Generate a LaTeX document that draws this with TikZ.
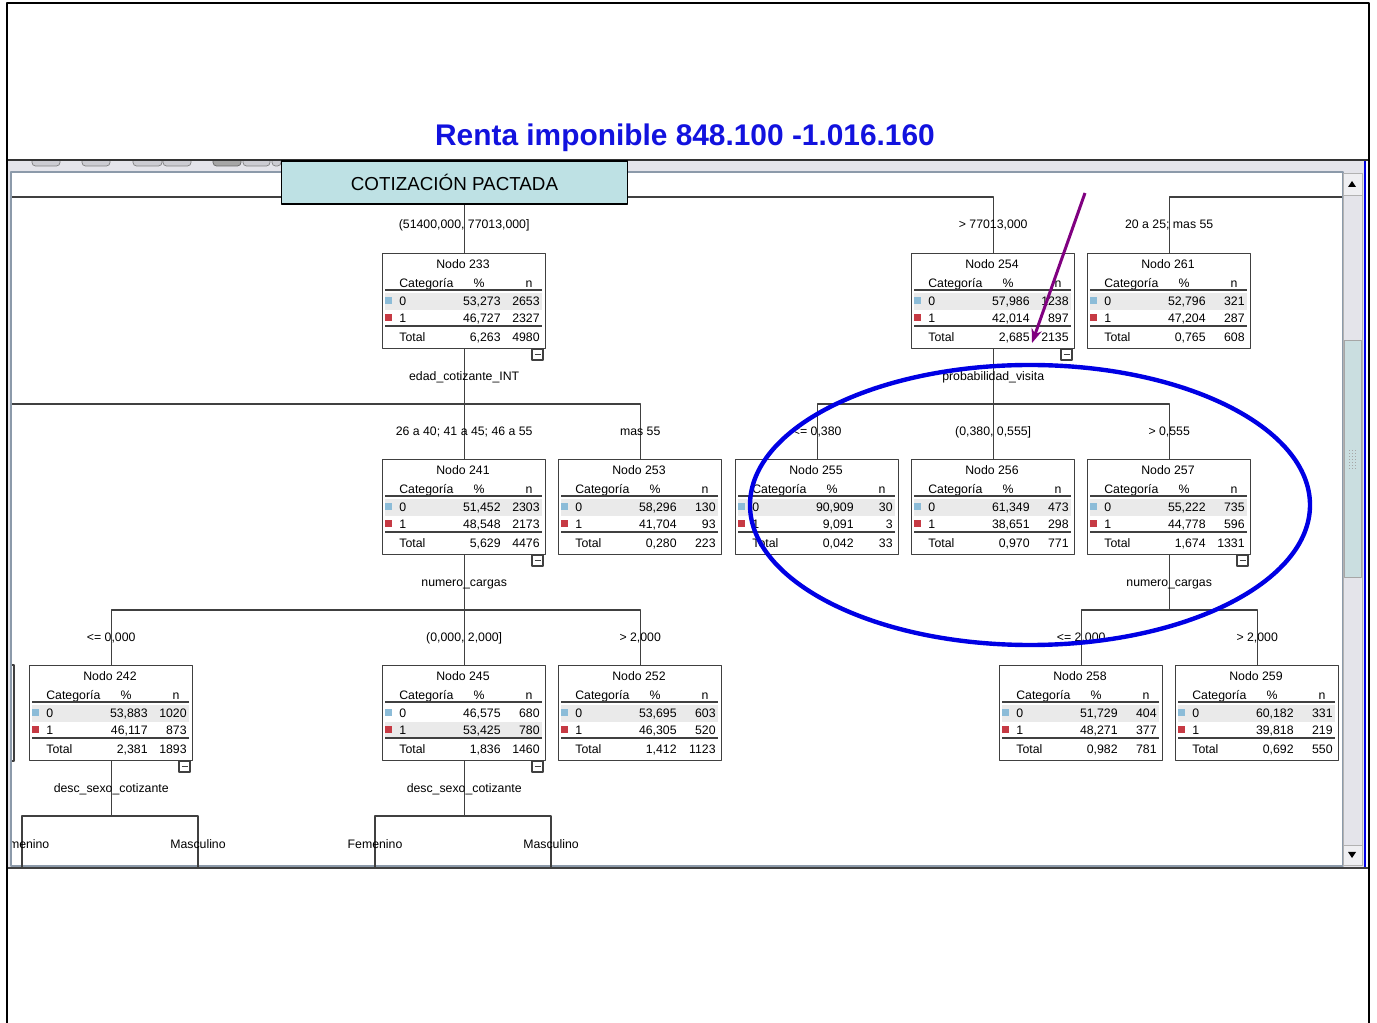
\documentclass[tikz,border=0pt]{standalone}
\usepackage{fontspec}
\setmainfont{Liberation Sans}
\usetikzlibrary{arrows.meta}
\definecolor{titleblue}{RGB}{18,18,222}
\definecolor{ringblue}{RGB}{0,0,228}
\definecolor{arrowpurple}{RGB}{128,0,128}
\definecolor{treegray}{RGB}{64,64,64}
\definecolor{bandgray}{RGB}{228,228,234}
\definecolor{framegray}{RGB}{140,154,170}
\definecolor{headteal}{RGB}{190,225,228}
\definecolor{thumbteal}{RGB}{202,222,224}
\definecolor{rowshade}{RGB}{234,234,234}
\definecolor{catblue}{RGB}{140,188,216}
\definecolor{catred}{RGB}{198,58,68}
\definecolor{tabgray}{RGB}{204,204,210}
\tikzset{
  treebox/.style={draw=treegray, line width=0.8pt, fill=white, minimum width=3.26cm, minimum height=1.9cm, inner sep=0pt, anchor=north west},
  celltext/.style={font=\fontsize{7}{8}\selectfont, inner sep=0pt, text height=5pt, text depth=0pt},
  splitlabel/.style={celltext},
  treeline/.style={draw=treegray, line width=0.7pt},
  tabrule/.style={draw=treegray, line width=1pt},
}
\begin{document}
\begin{tikzpicture}[x=0.02cm, y=-0.02cm, line join=round]
\useasboundingbox (0,0) rectangle (1377,1023);
% window
\fill[bandgray] (8,161) rectangle (1365,868);
\begin{scope}
\clip (8,161) rectangle (1365,171);
\foreach \a/\b in {32/60,82/110,133/162,163/191,243/270,272/281}
  \draw[gray, fill=tabgray, rounded corners=2pt] (\a,150) rectangle (\b,166);
\draw[gray!80!black, fill=gray!70, rounded corners=2pt] (213,150) rectangle (241,166);
\end{scope}
\fill[white] (12,173) rectangle (1342,866);
\draw[framegray, line width=1.2pt] (11,172) rectangle (1343,866);
% scrollbar
\draw[gray!60, fill=bandgray] (1343,173) rectangle (1362,865);
\draw[gray!60, fill=bandgray!60] (1343,173) rectangle (1362,195);
\fill (1348,187) -- (1356,187) -- (1352,181) -- cycle;
\draw[gray!60, fill=bandgray!60] (1343,845) rectangle (1362,865);
\fill (1348,852) -- (1356,852) -- (1352,858) -- cycle;
\draw[gray!70, fill=thumbteal] (1344,340) rectangle (1361,577);
\foreach \gy in {450,453,...,468} \foreach \gx in {1349,1352,1355} \fill[gray!70] (\gx,\gy) rectangle +(1.2,1.2);
\draw[ringblue, line width=1.2pt] (1365,160) -- (1365,868);
\draw[black!80, line width=1.2pt] (7,160) -- (1369,160);
\draw[black!75, line width=1.4pt] (7,868) -- (1369,868);
\draw[line width=1.2pt] (7,1023) -- (7,3) -- (1369,3) -- (1369,1023);
\node[font=\bfseries\fontsize{17}{20}\selectfont, text=titleblue] (title) at (685,138) {Renta imponible 848.100 -1.016.160};
% tree
\path (0,197) coordinate (bus1) (0,224) coordinate (lab1) (0,376) coordinate (var1)
  (0,404) coordinate (bus2) (0,431) coordinate (lab2) (0,582) coordinate (var2)
  (0,610) coordinate (bus3) (0,637) coordinate (lab3) (0,788) coordinate (var3)
  (0,816) coordinate (bus4) (0,844) coordinate (lab4)
  (12,0) coordinate (cutL) (1342,0) coordinate (cutR)
  (22,870) coordinate (fem242) (198,870) coordinate (mas242)
  (375,870) coordinate (fem245) (551,870) coordinate (mas245);
\begin{scope}
\clip (12,173) rectangle (1342,866);
\draw[treegray, line width=0.8pt] (-150,665) rectangle (14,761);
\foreach \nm/\x/\y/\pa/\na/\pb/\nb/\pt/\nt/\sh/\tg in {
  233/382/253/{53,273}/2653/{46,727}/2327/{6,263}/4980/0/1,
  254/911/253/{57,986}/1238/{42,014}/897/{2,685}/2135/0/1,
  261/1087/253/{52,796}/321/{47,204}/287/{0,765}/608/0/0,
  241/382/459/{51,452}/2303/{48,548}/2173/{5,629}/4476/0/1,
  253/558/459/{58,296}/130/{41,704}/93/{0,280}/223/0/0,
  255/735/459/{90,909}/30/{9,091}/3/{0,042}/33/0/0,
  256/911/459/{61,349}/473/{38,651}/298/{0,970}/771/0/0,
  257/1087/459/{55,222}/735/{44,778}/596/{1,674}/1331/0/1,
  242/29/665/{53,883}/1020/{46,117}/873/{2,381}/1893/0/1,
  245/382/665/{46,575}/680/{53,425}/780/{1,836}/1460/1/1,
  252/558/665/{53,695}/603/{46,305}/520/{1,412}/1123/0/0,
  258/999/665/{51,729}/404/{48,271}/377/{0,982}/781/0/0,
  259/1175/665/{60,182}/331/{39,818}/219/{0,692}/550/0/0}
{
\begin{scope}[shift={(\x,\y)}]
\node[treebox] (n\nm) at (0,0) {};
\fill[rowshade] (3,{40+17*\sh}) rectangle (160,{57+17*\sh});
\node[celltext] at (81,11) {Nodo \nm};
\node[celltext, anchor=west] at (17,30) {Categoría};
\node[celltext] at (97,30) {\%};
\node[celltext] at (147,30) {n};
\draw[tabrule] (3,37) -- (160,37);
\fill[catblue] (3,44) rectangle (10,51);
\fill[catred] (3,61) rectangle (10,68);
\node[celltext, anchor=west] at (17,48) {0};
\node[celltext, anchor=west] at (17,65) {1};
\node[celltext, anchor=east] at (119,48) {\pa};
\node[celltext, anchor=east] at (158,48) {\na};
\node[celltext, anchor=east] at (119,65) {\pb};
\node[celltext, anchor=east] at (158,65) {\nb};
\draw[tabrule] (3,73) -- (160,73);
\node[celltext, anchor=west] at (17,84) {Total};
\node[celltext, anchor=east] at (119,84) {\pt};
\node[celltext, anchor=east] at (158,84) {\nt};
\ifnum\tg=1
  \draw[treegray, line width=0.7pt, fill=white] (150,96) rectangle (161,107);
  \draw[treegray, line width=0.7pt] (152.5,101.5) -- (158.5,101.5);
\fi
\end{scope}
}
% connectors
\draw[treeline] (cutL |- bus1) -| (n254.north);
\draw[treeline] (n233.north |- bus1) -- (n233.north);
\draw[treeline] (cutR |- bus1) -| (n261.north);
\draw[treeline] (n233.south) -- (n241.north);
\draw[treeline] (cutL |- bus2) -| (n253.north);
\draw[treeline] (n254.south) -- (n256.north);
\draw[treeline] (n255.north) |- (n257.north |- bus2) -- (n257.north);
\draw[treeline] (n241.south) -- (n245.north);
\draw[treeline] (n242.north) |- (n252.north |- bus3) -- (n252.north);
\draw[treeline] (n257.south) -- (n257.south |- bus3);
\draw[treeline] (n258.north) |- (n259.north |- bus3) -- (n259.north);
\draw[treeline] (n242.south) -- (n242.south |- bus4);
\draw[treeline] (fem242) |- (mas242 |- bus4) -- (mas242);
\draw[treeline] (n245.south) -- (n245.south |- bus4);
\draw[treeline] (fem245) |- (mas245 |- bus4) -- (mas245);
% split labels
\node[splitlabel] at (n233.north |- lab1) {(51400,000, 77013,000]};
\node[splitlabel] at (n254.north |- lab1) {> 77013,000};
\node[splitlabel] at (n261.north |- lab1) {20 a 25; mas 55};
\node[splitlabel] at (n233.south |- var1) {edad\_cotizante\_INT};
\node[splitlabel] at (n254.south |- var1) {probabilidad\_visita};
\node[splitlabel] at (n241.north |- lab2) {26 a 40; 41 a 45; 46 a 55};
\node[splitlabel] at (n253.north |- lab2) {mas 55};
\node[splitlabel] at (n255.north |- lab2) {<= 0,380};
\node[splitlabel] at (n256.north |- lab2) {(0,380, 0,555]};
\node[splitlabel] at (n257.north |- lab2) {> 0,555};
\node[splitlabel] at (n241.south |- var2) {numero\_cargas};
\node[splitlabel] at (n257.south |- var2) {numero\_cargas};
\node[splitlabel] at (n242.north |- lab3) {<= 0,000};
\node[splitlabel] at (n245.north |- lab3) {(0,000, 2,000]};
\node[splitlabel] at (n252.north |- lab3) {> 2,000};
\node[splitlabel] at (n258.north |- lab3) {<= 2,000};
\node[splitlabel] at (n259.north |- lab3) {> 2,000};
\node[splitlabel] at (n242.south |- var3) {desc\_sexo\_cotizante};
\node[splitlabel] at (n245.south |- var3) {desc\_sexo\_cotizante};
\node[splitlabel] at (fem242 |- lab4) {Femenino};
\node[splitlabel] at (mas242 |- lab4) {Masculino};
\node[splitlabel] at (fem245 |- lab4) {Femenino};
\node[splitlabel] at (mas245 |- lab4) {Masculino};
\end{scope}
\node[draw=black, fill=headteal, line width=0.6pt, minimum width=6.94cm, minimum height=0.86cm, inner sep=0pt, font=\fontsize{10.7}{12}\selectfont] (tabhead) at (454.5,182.5) {COTIZACIÓN PACTADA};
% highlight
\draw[ringblue, line width=2.5pt] (1030,505) ellipse [x radius=280, y radius=140];
\path (1085,193) coordinate (arrowtail) (1032,343) coordinate (arrowtip);
\draw[arrowpurple, line width=1.7pt, -{Stealth[length=8pt,width=6pt]}] (arrowtail) -- (arrowtip);
\end{tikzpicture}
\end{document}
